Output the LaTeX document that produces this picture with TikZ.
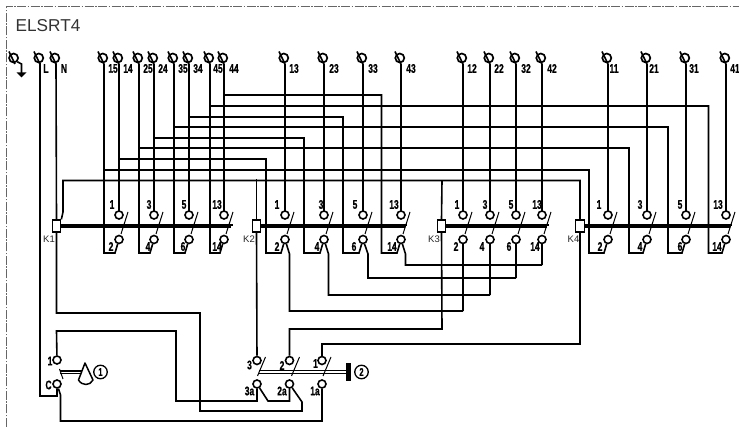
\documentclass[tikz,border=0pt]{standalone}
\usepackage{fontspec}
\setmainfont{Liberation Sans}
\newfontfamily\wf[FakeStretch=0.68,FakeBold=0.6]{Liberation Sans Bold}
\begin{document}
\begin{tikzpicture}[x=1pt,y=-1pt,
  wire/.style={line width=1.6pt,black,line join=miter},
  thin slash/.style={line width=1pt,black},
  term/.style={circle,draw=black,line width=1.7pt,fill=none,minimum size=9pt,inner sep=0pt},
  cont/.style={circle,draw=black,line width=1.6pt,fill=white,minimum size=8pt,inner sep=0pt},
  coil/.style={rectangle,draw=black,line width=1.2pt,fill=white,minimum width=8.5pt,minimum height=12pt,inner sep=0pt},
  wl/.style={inner sep=0pt,font=\wf\fontsize{12.5}{12.5}\selectfont},
  kl/.style={inner sep=0pt,text=black!85,font=\fontsize{9.5}{9.5}\selectfont},
  numc/.style={circle,draw=black,line width=1.3pt,minimum size=13.5pt,inner sep=0pt,font=\wf\fontsize{11}{11}\selectfont},
  bar/.style={line width=2pt,black},
  frame/.style={line width=0.9pt,black!60,dash pattern=on 9pt off 1.5pt on 1.5pt off 1.5pt}]
\useasboundingbox (0,0) rectangle (739,427);
\draw[frame] (6,427) -- (6,6) -- (739,6);
\node[anchor=west,inner sep=0pt,text=black!80,font=\fontsize{17.2}{17.2}\selectfont] (title) at (15.5,25.5) {ELSRT4};

\foreach \x in {119,154,189,224,285,324,363,401,463,490,516,542,608,647,686,726}{
  \coordinate (w\x) at (\x,64);
}
% coils and ganged bars
\node[coil] (K1) at (56.5,226) {};
\node[coil] (K2) at (256.5,226) {};
\node[coil] (K3) at (441.5,226) {};
\node[coil] (K4) at (580,226) {};
\foreach \a/\e in {K1/233,K2/407,K3/549,K4/732}{
  \draw[bar] (\a.east)++(0,-1) -- (\e,225);
  \draw[bar] (\a.east)++(0,1) -- (\e-2,227);
}

% top terminals: name / wire x / label x
\foreach \n/\x/\lx in {L/40/46,N/56/64,15/104/113,14/119/128,25/139/148,24/154/163,35/174/183,34/189/198,45/210/218,44/224/234,13/285/294,23/324/334,33/363/373,43/401/411,12/463/472,22/490/499,32/516/526,42/542/552,11/608/614,21/647/654,31/686/694,41/726/735}{
  \node[term] (t\n) at (\x-1.2,58) {};
  \draw[wire] (\x-6,51.5) -- (\x,64);
  \node[wl] (tl\n) at (\lx,68.5) {\n};
}
% earth
\node[term] (tE) at (13.6,58) {};
\draw[wire] (9,51.5) -- (15,64);
\coordinate (eb) at (21.5,74);
\draw[wire] (tE.south east) -- (21.5,64) -- (eb);
\fill[black] (16.5,72.5) -- (26.5,72.5) -- (21.5,77.5) -- cycle;

\node[kl] (k1l) at (49,239.5) {K1};
\node[kl] (k2l) at (249,239.5) {K2};
\node[kl] (k3l) at (434,239.5) {K3};
\node[kl] (k4l) at (573.5,239.5) {K4};

% contacts: x / upper label / x / lower label / x
\foreach \x/\ul/\ux/\ll/\lx in {119/1/112/2/111,154/3/149/4/148,189/5/184/6/183,224/13/217/14/217,
 285/1/277/2/277,324/3/321/4/317,363/5/355/6/354,401/13/394/14/392,
 463/1/457/2/456,490/3/485/4/482,516/5/511/6/509,542/13/537/14/535,
 608/1/599/2/600,647/3/640/4/640,686/5/680/6/680,726/13/718/14/717}{
  \draw[wire] (w\x) -- (\x,215);
  \node[cont] (u\x) at (\x,215) {};
  \node[cont] (l\x) at (\x,239.5) {};
  \node[wl] (ul\x) at (\ux,204.5) {\ul};
  \node[wl] (ll\x) at (\lx,246.5) {\ll};
  \draw[thin slash] (\x+9,212) -- (\x+2,234);
}

% K1 feet on terminal wires
\foreach \t/\f/\x in {15/104/119,25/139/154,35/174/189,45/210/224}{
  \draw[wire] (\f,64) -- (\f,253) -- (\x-4,253) -- (l\x);
}
% buses
\foreach \f/\y/\tx/\x in {119/159/266/285,154/138/304/324,189/117/343/363,224/95/381.5/401,
                          104/170/589/608,139/148/629/647,174/127/668/686,210/106/708.5/726}{
  \draw[wire] (\f,\y) -- (\tx,\y) -- (\tx,253) -- (\x-4,253) -- (l\x);
}
% lower contact groups K2 to K3
\draw[wire] (l285) -- (289.5,254) -- (289.5,311) -- (463,311);
\draw[wire] (l324) -- (328.5,254) -- (328.5,295) -- (490,295);
\draw[wire] (l363) -- (368,254) -- (368,278) -- (516,278);
\draw[wire] (l401) -- (405.5,254) -- (405.5,265) -- (542,265);
\foreach \x/\y in {463/311,490/295,516/278,542/265}{ \draw[wire] (l\x) -- (\x,\y); }

% auxiliary switch contacts
\node[cont] (a1) at (57,360) {};
\node[cont] (aC) at (57,384) {};
\node[wl] (a1l) at (50,361) {1};
\node[wl] (aCl) at (48.5,385) {C};
\node[cont] (b3) at (257,360.5) {};
\node[cont] (b2) at (289.5,360.5) {};
\node[cont] (b1) at (322,360.5) {};
\node[cont] (c3) at (257,384) {};
\node[cont] (c2) at (289.5,384) {};
\node[cont] (c1) at (322,384) {};
\node[wl] (b3l) at (249.5,365) {3};
\node[wl] (b2l) at (282,365.5) {2};
\node[wl] (b1l) at (315.5,363.5) {1};
\node[wl] (c3l) at (249.5,391) {3a};
\node[wl] (c2l) at (282,391) {2a};
\node[wl] (c1l) at (315,391) {1a};
\draw[thin slash] (59.5,369) -- (63,379);
\draw[thin slash] (265.5,357) -- (257.5,376);
\draw[thin slash] (299.5,357) -- (291.5,376);
\draw[thin slash] (331,357) -- (323,376);

% lever 1
\draw[line width=1.2pt] (60,371) -- (82,371);
\draw[line width=1.2pt] (60,373.6) -- (81,373.6);
\draw[line width=1.5pt,line join=round] (85,363) -- (78.5,380) .. controls (82,386) and (90,386) .. (93,380) -- cycle;
\node[numc] (n1) at (100.5,372) {1};
% lever 2
\draw[line width=1.2pt] (259,370.8) -- (346,370.8);
\draw[line width=1.2pt] (258,373.4) -- (346,373.4);
\node[fill=black,inner sep=0pt,minimum width=4.5pt,minimum height=18pt] (bar2) at (348.5,372) {};
\node[numc] (n2) at (361.5,372) {2};

% wiring
\draw[wire] (tL.south) ++(1.2,0) -- (40,396) -- (57,396) -- (aC);
\draw[wire] (tN.south) ++(1.2,0) -- (K1.north);
\draw[wire] (K1.south) -- (56.5,313) -- (200,313) -- (200,411) -- (302,411) -- (302,402) -- (c2);
\draw[wire] (a1) -- (56.5,331) -- (176,331) -- (176,401) -- (257,401) -- (c3);
\draw[wire] (c3) -- (268,401) -- (289.5,401) -- (c2);
\draw[wire] (aC) -- (60.5,395) -- (60.5,421) -- (322,421) -- (c1);
\draw[wire] (K1.north east) -- (63,212) -- (63,180.5) -- (580,180.5) -- (K4.north);
\draw[wire] (256.5,179.5) -- (K2.north);
\draw[wire] (K2.south) -- (b3);
\draw[wire] (442,180.5) -- (K3.north);
\draw[wire] (K3.south) -- (442,329) -- (289.5,329) -- (b2);
\draw[wire] (K4.south) -- (580,344) -- (322,344) -- (b1);
\end{tikzpicture}
\end{document}
